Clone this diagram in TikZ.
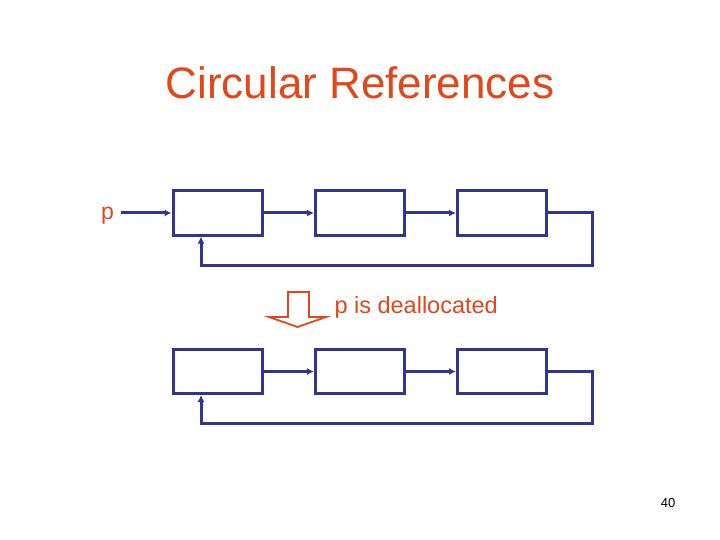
\documentclass[tikz,border=0pt]{standalone}
\usepackage{fontspec}
\setmainfont{Liberation Sans}
\usetikzlibrary{positioning,arrows.meta,calc}
\definecolor{navy}{RGB}{51,51,145}
\definecolor{slidered}{RGB}{228,70,28}

\begin{document}
\begin{tikzpicture}[x=1pt,y=-1pt,
    cell/.style={draw=navy,line width=3pt,minimum width=89pt,minimum height=44pt,inner sep=0pt},
    link/.style={navy,line width=3pt,-{Latex[length=7pt,width=7pt]}}]

		\useasboundingbox[fill=white] (0,0) rectangle (720,540);

		% title
		\node[slidered,font=\fontsize{44}{50}\selectfont]
		(title) at (360,83) {Circular References};

		% before
		\node[cell] (a1) at (217.5,213) {};
		\node[cell] (b1) at (360,213) {};
		\node[cell] (c1) at (502,213) {};

		\node[slidered,font=\fontsize{23}{27}\selectfont,inner sep=0pt]
		(p) at (107.5,216) {p};

		\coordinate (r1) at (592,265);

		\draw[link] ([xshift=7pt]p.east |- a1.west) -- (a1.west);
		\draw[link] (a1) -- (b1);
		\draw[link] (b1) -- (c1);
		\draw[link] (c1.east) -| (r1) -| ([xshift=-16.5pt]a1.south);

		% step
		\draw[slidered,line width=1.8pt,line join=miter]
		(288,292) -- (309,292) -- (309,317) -- (326,317)
		-- (297.5,327) -- (269,317) -- (288,317) -- cycle;

		\node[slidered,font=\fontsize{23.5}{27}\selectfont,anchor=west]
		(msg) at (331,307) {p is deallocated};

		% after
		\node[cell] (a2) at (217.5,371.5) {};
		\node[cell] (b2) at (360,371.5) {};
		\node[cell] (c2) at (502,371.5) {};

		\coordinate (r2) at (592,423);

		\draw[link] (a2) -- (b2);
		\draw[link] (b2) -- (c2);
		\draw[link] (c2.east) -| (r2) -| ([xshift=-16.5pt]a2.south);

		% page number
		\node[font=\fontsize{13}{15}\selectfont]
		(num) at (668,503) {40};

	\end{tikzpicture}
\end{document}
